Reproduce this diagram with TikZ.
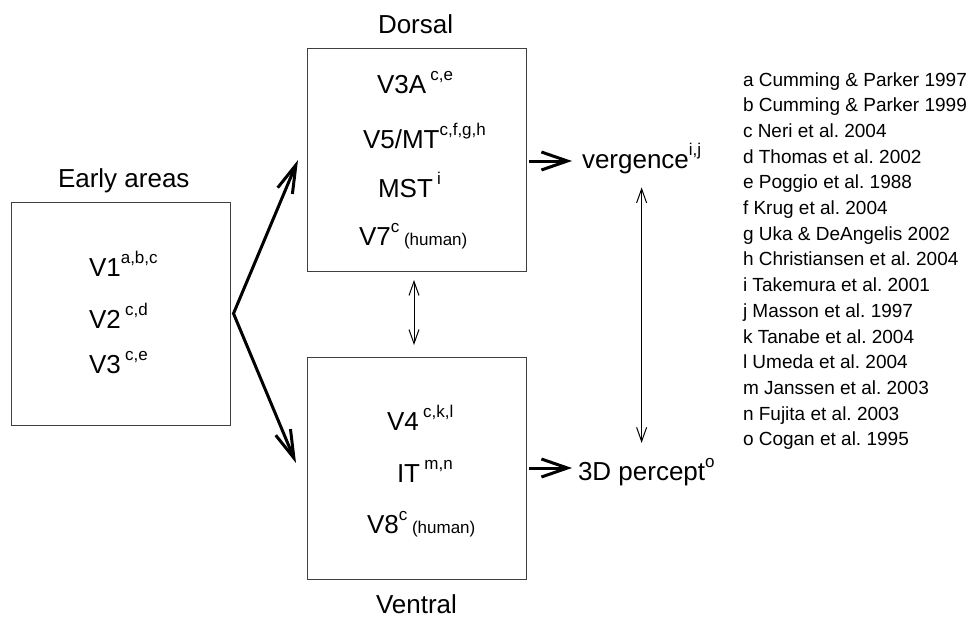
\documentclass[tikz,border=0pt]{standalone}
\usepackage{fontspec}
\setmainfont{Liberation Sans}
\usetikzlibrary{arrows.meta,calc}
\frenchspacing
\newcommand\supr[1]{\raisebox{13pt}{\fontsize{17}{17}\selectfont #1}}
\newcommand\hum{{\fontsize{17}{17}\selectfont\ (human)}}
\begin{document}
\begin{tikzpicture}[x=1pt,y=-1pt,
  every node/.style={inner sep=0pt, outer sep=0pt},
  big/.style={font=\fontsize{26}{30}\selectfont, anchor=base west},
  refl/.style={font=\fontsize{19}{22}\selectfont, anchor=base west},
  area/.style={draw=black!75, line width=1pt, minimum width=219pt, minimum height=223pt},
  thickarrow/.style={line width=3pt, line join=miter, -{Straight Barb[length=26pt,width=18pt]}},
  forkarrow/.style={line width=3pt, line join=miter, {Straight Barb[length=28pt,width=16pt]}-{Straight Barb[length=28pt,width=16pt]}},
  thinarrow/.style={line width=1pt, {Straight Barb[length=14pt,width=10pt]}-{Straight Barb[length=14pt,width=10pt]}}]
\useasboundingbox (0,0) rectangle (970,619);

% boxes
\node[area] (early) at (121,313.5) {};
\node[area] (dorsal) at (416.5,159.5) {};
\node[area, minimum height=222pt] (ventral) at (416.5,468) {};

% titles
\node[big] (earlyl) at (58,187) {Early areas};
\node[big] (dorsl) at (378,33) {Dorsal};
\node[big] (ventl) at (376,613) {Ventral};

% early areas
\node[big] (v1) at (89,276) {V1\supr{a,b,c}};
\node[big] (v2) at (89,328) {V2\,\supr{c,d}};
\node[big] (v3) at (89,373) {V3\,\supr{c,e}};

% dorsal
\node[big] (v3a) at (377,93) {V3A\,\supr{c,e}};
\node[big] (v5) at (363,148) {V5/MT\supr{c,f,g,h}};
\node[big] (mst) at (378,197) {MST\,\supr{i}};
\node[big] (v7) at (359,245) {V7\supr{c}\hum};

% ventral
\node[big] (v4) at (387,430) {V4\,\supr{c,k,l}};
\node[big] (it) at (397,482) {IT\,\supr{m,n}};
\node[big] (v8) at (367,533) {V8\supr{c}\hum};

% outputs
\node[big] (verg) at (582,168) {vergence\supr{i,j}};
\node[big] (percept) at (578,480) {3D percept\supr{o}};

% references
\foreach \t [count=\i] in {a Cumming \& Parker 1997, b Cumming \& Parker 1999,
  c Neri et al. 2004, d Thomas et al. 2002, e Poggio et al. 1988,
  f Krug et al. 2004, g Uka \& DeAngelis 2002, h Christiansen et al. 2004,
  i Takemura et al. 2001, j Masson et al. 1997, k Tanabe et al. 2004,
  l Umeda et al. 2004, m Janssen et al. 2003, n Fujita et al. 2003,
  o Cogan et al. 1995}
  \node[refl] (r\i) at (743,{86+25.7*(\i-1)}) {\t};

% connectors
\coordinate (fork) at ($(early.east)+(3,0)$);
\coordinate (up) at ($(dorsal.west)+(-9,0.5)$);
\coordinate (down) at ($(ventral.west)+(-11,-5)$);
\draw[forkarrow] (up) -- (fork) -- (down);

\draw[thickarrow] ($(dorsal.east)+(3,1.5)$) -- ($(verg.west |- dorsal.east)+(-10,1.5)$);
\draw[thickarrow] ($(ventral.east)+(3,0)$) -- ($(percept.west |- ventral.east)+(-6,0)$);

\draw[thinarrow] ($(dorsal.south)+(-2.5,9)$) -- ($(ventral.north)+(-2.5,-12)$);

\coordinate (va) at ($(verg.south)+(0,14)$);
\coordinate (vb) at ($(va |- percept.north)+(0,-15)$);
\draw[thinarrow] (va) -- (vb);
\end{tikzpicture}
\end{document}
